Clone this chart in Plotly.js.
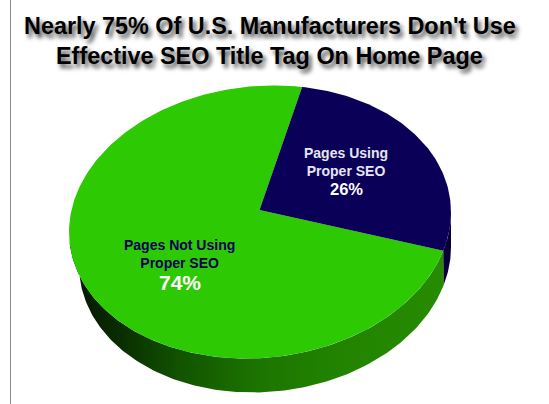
<!DOCTYPE html>
<html>
<head>
<meta charset="utf-8">
<script src="https://cdn.plot.ly/plotly-3.0.1.min.js"></script>
<style>html,body{margin:0;padding:0;background:#fff;overflow:hidden}</style>
</head>
<body>
<div id="chart" style="width:549px;height:404px"></div>
<script>
// Survey result
const categories = ['Pages Not Using<br>Proper SEO', 'Pages Using<br>Proper SEO'];
const shares = [74, 26];
const sliceColors = ['#2dc903', '#0a0058'];
const titleLines = ["Nearly 75% Of U.S. Manufacturers Don't Use", 'Effective SEO Title Tag On Home Page'];

// Tilted disc geometry, in axis units
const disc = {cx: 260, cy: 222, rx: 191.5, ry: 135.8, tilt: 6, hubX: 259.5, hubY: 210, depth: 34, inset: 5, startAngle: 73};
const rad = d => d * Math.PI / 180;

// Point on the top rim (lower = false) or on the smaller bottom rim (lower = true)
function rim(t, lower) {
  const shift = lower ? disc.inset : 0;
  const ex = (disc.rx - shift) * Math.cos(rad(t));
  const ey = disc.ry * Math.sin(rad(t));
  const a = rad(disc.tilt);
  return [disc.cx + shift + ex * Math.cos(a) - ey * Math.sin(a),
          disc.cy + (lower ? disc.depth : 0) - ex * Math.sin(a) - ey * Math.cos(a)];
}
function arc(from, to, lower) {
  const n = Math.ceil(Math.abs(to - from));
  const pts = [];
  for (let i = 0; i <= n; i++) pts.push(rim(from + (to - from) * i / n, lower));
  return pts;
}
function polygon(pts, extra) {
  return Object.assign({
    type: 'scatter', mode: 'lines', x: pts.map(p => p[0]), y: pts.map(p => p[1]),
    fill: 'toself', line: {width: 0}, hoverinfo: 'skip', showlegend: false
  }, extra);
}

// Slice angles follow the shares: the navy slice runs clockwise from the start angle
const total = shares[0] + shares[1];
const navyEnd = disc.startAngle - shares[1] / total * 360;
const greenEnd = navyEnd - shares[0] / total * 360;

// Visible wall: lower part of the rim, split at the slice boundary
const wallLeft = -180;
const wallRight = -4;
const greenWall = polygon(
  arc(navyEnd, wallLeft, false).concat(arc(wallLeft, navyEnd, true)),
  {fillgradient: {type: 'horizontal', colorscale: [[0, '#031400'], [0.14, '#0a2e00'], [0.3, '#125400'], [0.5, '#1c7400'], [0.7, '#218200'], [1, '#268c00']]}}
);
const navyWall = polygon(
  arc(wallRight, navyEnd, false).concat(arc(navyEnd, wallRight, true)),
  {fillcolor: '#050038'}
);

const hub = [disc.hubX, disc.hubY];
const navyTop = polygon([hub].concat(arc(disc.startAngle, navyEnd, false), [hub]), {fillcolor: sliceColors[1]});
const greenTop = polygon([hub].concat(arc(navyEnd, greenEnd, false), [hub]), {fillcolor: sliceColors[0]});

const labelFont = 'Liberation Sans, Arial, sans-serif';
const note = (x, y, text, size, color, shadow) => ({
  x, y, xref: 'x', yref: 'y', text, showarrow: false,
  font: {family: labelFont, size, color, weight: 700, shadow: shadow || 'none'},
  xanchor: 'center', yanchor: 'middle'
});
const titleShadow = '3px 4px 4px rgba(0,0,0,0.7)';

const layout = {
  width: 549, height: 404,
  margin: {l: 0, r: 0, t: 0, b: 0},
  paper_bgcolor: '#fff', plot_bgcolor: '#fff',
  xaxis: {range: [0, 549], visible: false, fixedrange: true},
  yaxis: {range: [404, 0], visible: false, fixedrange: true},
  showlegend: false,
  shapes: [{type: 'line', xref: 'x', yref: 'y', x0: 10.5, x1: 10.5, y0: 0, y1: 404,
            line: {color: '#8a8a8a', width: 1}}],
  annotations: [
    note(269.5, 26, titleLines[0], 23.4, '#000', titleShadow),
    note(269, 56, titleLines[1], 23.4, '#000', titleShadow),
    note(346, 162, categories[1], 14, '#e6e6f0'),
    note(346, 189, shares[1] + '%', 16.5, '#fff'),
    note(179.5, 254, categories[0], 14, sliceColors[1]),
    note(179.5, 282, shares[0] + '%', 21, '#fff')
  ]
};

Plotly.newPlot('chart', [greenWall, navyWall, greenTop, navyTop], layout, {displayModeBar: false, staticPlot: true});
</script>
</body>
</html>
